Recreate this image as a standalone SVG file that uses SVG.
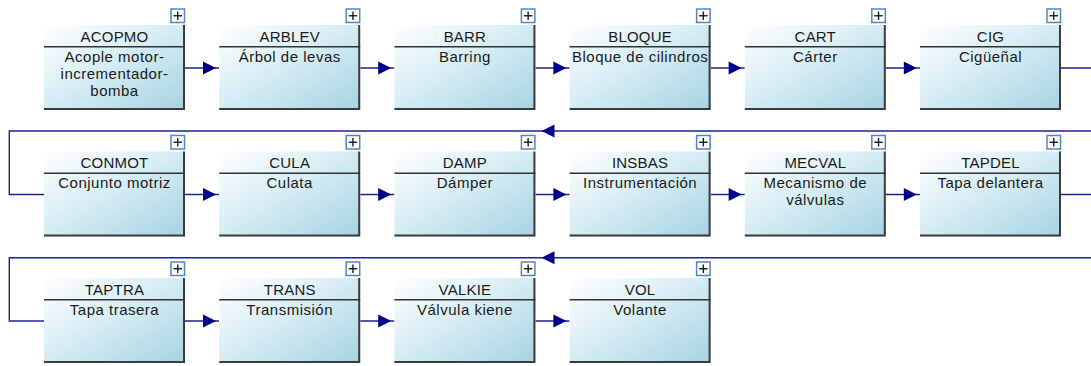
<svg xmlns="http://www.w3.org/2000/svg" xmlns:xlink="http://www.w3.org/1999/xlink" width="1091" height="366" viewBox="0 0 1091 366">
<style>
.box{fill:url(#g);stroke:none}
.edge{stroke:#3c3c3c;stroke-width:2;fill:none}
.sep{stroke:#333;stroke-width:1.5}
.plus{fill:#fff;stroke:#4f86c6;stroke-width:1.5}
.pl{stroke:#1a1a1a;stroke-width:1.4}
.t{font-family:"Liberation Sans",Arial,sans-serif;font-size:15px;fill:#1a1a1a;text-anchor:middle}
.h{letter-spacing:0.2px}
.d{letter-spacing:0.5px}
.c{stroke:#1f1f96;stroke-width:1.4;fill:none}
.ah{fill:#00008b}
</style>
<defs>
<linearGradient id="g" x1="0" y1="0" x2="1" y2="1">
<stop offset="0" stop-color="#ffffff"/>
<stop offset="0.4" stop-color="#dcf0f6"/>
<stop offset="1" stop-color="#a6d3e2"/>
</linearGradient>
<path id="ah" d="M0,0 L-13,-6.5 L-13,6.5 Z"/>
<g id="pb"><rect class="plus" x="-14" y="-16" width="13.5" height="13.5"/><line class="pl" x1="-11.5" y1="-9.25" x2="-3" y2="-9.25"/><line class="pl" x1="-7.25" y1="-13.5" x2="-7.25" y2="-5"/></g>
</defs>
<rect width="1091" height="366" fill="#fff"/>

<g id="connectors">
<path class="c" d="M185,68 H219 M360.2,68 H394.4 M535.4,68 H569.6 M710.6,68 H744.8 M885.8,68 H920"/>
<use href="#ah" class="ah" transform="translate(216,68)"/>
<use href="#ah" class="ah" transform="translate(391.2,68)"/>
<use href="#ah" class="ah" transform="translate(566.4,68)"/>
<use href="#ah" class="ah" transform="translate(741.6,68)"/>
<use href="#ah" class="ah" transform="translate(916.8,68)"/>
<path class="c" d="M1061,68 H1100 V131 H9.3 V194.5 H44"/>
<use href="#ah" class="ah" transform="translate(541.5,131) rotate(180)"/>

<path class="c" d="M185,194.5 H219 M360.2,194.5 H394.4 M535.4,194.5 H569.6 M710.6,194.5 H744.8 M885.8,194.5 H920"/>
<use href="#ah" class="ah" transform="translate(216,194.5)"/>
<use href="#ah" class="ah" transform="translate(391.2,194.5)"/>
<use href="#ah" class="ah" transform="translate(566.4,194.5)"/>
<use href="#ah" class="ah" transform="translate(741.6,194.5)"/>
<use href="#ah" class="ah" transform="translate(916.8,194.5)"/>
<path class="c" d="M1061,194.5 H1100 V257.7 H9.3 V321 H44"/>
<use href="#ah" class="ah" transform="translate(541.5,257.7) rotate(180)"/>

<path class="c" d="M185,321 H219 M360.2,321 H394.4 M535.4,321 H569.6"/>
<use href="#ah" class="ah" transform="translate(216,321)"/>
<use href="#ah" class="ah" transform="translate(391.2,321)"/>
<use href="#ah" class="ah" transform="translate(566.4,321)"/>
</g>

<!-- Row 1 -->
<g id="ACOPMO" transform="translate(44,25)">
<rect class="box" width="141" height="85"/><path class="edge" d="M140,0 V84 H0"/><line class="sep" x1="0" y1="21.7" x2="141" y2="21.7"/>
<use href="#pb" x="141" y="0"/>
<text class="t h" x="70.5" y="16.7">ACOPMO</text>
<text class="t d" x="70.5" y="36.5">Acople motor-</text>
<text class="t d" x="70.5" y="53.5">incrementador-</text>
<text class="t d" x="70.5" y="70.5">bomba</text>
</g>
<g id="ARBLEV" transform="translate(219.2,25)">
<rect class="box" width="141" height="85"/><path class="edge" d="M140,0 V84 H0"/><line class="sep" x1="0" y1="21.7" x2="141" y2="21.7"/>
<use href="#pb" x="141" y="0"/>
<text class="t h" x="70.5" y="16.7">ARBLEV</text>
<text class="t d" x="70.5" y="36.5">Árbol de levas</text>
</g>
<g id="BARR" transform="translate(394.4,25)">
<rect class="box" width="141" height="85"/><path class="edge" d="M140,0 V84 H0"/><line class="sep" x1="0" y1="21.7" x2="141" y2="21.7"/>
<use href="#pb" x="141" y="0"/>
<text class="t h" x="70.5" y="16.7">BARR</text>
<text class="t d" x="70.5" y="36.5">Barring</text>
</g>
<g id="BLOQUE" transform="translate(569.6,25)">
<rect class="box" width="141" height="85"/><path class="edge" d="M140,0 V84 H0"/><line class="sep" x1="0" y1="21.7" x2="141" y2="21.7"/>
<use href="#pb" x="141" y="0"/>
<text class="t h" x="70.5" y="16.7">BLOQUE</text>
<text class="t d" x="70.5" y="36.5">Bloque de cilindros</text>
</g>
<g id="CART" transform="translate(744.8,25)">
<rect class="box" width="141" height="85"/><path class="edge" d="M140,0 V84 H0"/><line class="sep" x1="0" y1="21.7" x2="141" y2="21.7"/>
<use href="#pb" x="141" y="0"/>
<text class="t h" x="70.5" y="16.7">CART</text>
<text class="t d" x="70.5" y="36.5">Cárter</text>
</g>
<g id="CIG" transform="translate(920,25)">
<rect class="box" width="141" height="85"/><path class="edge" d="M140,0 V84 H0"/><line class="sep" x1="0" y1="21.7" x2="141" y2="21.7"/>
<use href="#pb" x="141" y="0"/>
<text class="t h" x="70.5" y="16.7">CIG</text>
<text class="t d" x="70.5" y="36.5">Cigüeñal</text>
</g>

<!-- Row 2 -->
<g id="CONMOT" transform="translate(44,151.5)">
<rect class="box" width="141" height="85"/><path class="edge" d="M140,0 V84 H0"/><line class="sep" x1="0" y1="21.7" x2="141" y2="21.7"/>
<use href="#pb" x="141" y="0"/>
<text class="t h" x="70.5" y="16.7">CONMOT</text>
<text class="t d" x="70.5" y="36.5">Conjunto motriz</text>
</g>
<g id="CULA" transform="translate(219.2,151.5)">
<rect class="box" width="141" height="85"/><path class="edge" d="M140,0 V84 H0"/><line class="sep" x1="0" y1="21.7" x2="141" y2="21.7"/>
<use href="#pb" x="141" y="0"/>
<text class="t h" x="70.5" y="16.7">CULA</text>
<text class="t d" x="70.5" y="36.5">Culata</text>
</g>
<g id="DAMP" transform="translate(394.4,151.5)">
<rect class="box" width="141" height="85"/><path class="edge" d="M140,0 V84 H0"/><line class="sep" x1="0" y1="21.7" x2="141" y2="21.7"/>
<use href="#pb" x="141" y="0"/>
<text class="t h" x="70.5" y="16.7">DAMP</text>
<text class="t d" x="70.5" y="36.5">Dámper</text>
</g>
<g id="INSBAS" transform="translate(569.6,151.5)">
<rect class="box" width="141" height="85"/><path class="edge" d="M140,0 V84 H0"/><line class="sep" x1="0" y1="21.7" x2="141" y2="21.7"/>
<use href="#pb" x="141" y="0"/>
<text class="t h" x="70.5" y="16.7">INSBAS</text>
<text class="t d" x="70.5" y="36.5">Instrumentación</text>
</g>
<g id="MECVAL" transform="translate(744.8,151.5)">
<rect class="box" width="141" height="85"/><path class="edge" d="M140,0 V84 H0"/><line class="sep" x1="0" y1="21.7" x2="141" y2="21.7"/>
<use href="#pb" x="141" y="0"/>
<text class="t h" x="70.5" y="16.7">MECVAL</text>
<text class="t d" x="70.5" y="36.5">Mecanismo de</text>
<text class="t d" x="70.5" y="53.5">válvulas</text>
</g>
<g id="TAPDEL" transform="translate(920,151.5)">
<rect class="box" width="141" height="85"/><path class="edge" d="M140,0 V84 H0"/><line class="sep" x1="0" y1="21.7" x2="141" y2="21.7"/>
<use href="#pb" x="141" y="0"/>
<text class="t h" x="70.5" y="16.7">TAPDEL</text>
<text class="t d" x="70.5" y="36.5">Tapa delantera</text>
</g>

<!-- Row 3 -->
<g id="TAPTRA" transform="translate(44,278)">
<rect class="box" width="141" height="85"/><path class="edge" d="M140,0 V84 H0"/><line class="sep" x1="0" y1="21.7" x2="141" y2="21.7"/>
<use href="#pb" x="141" y="0"/>
<text class="t h" x="70.5" y="16.7">TAPTRA</text>
<text class="t d" x="70.5" y="36.5">Tapa trasera</text>
</g>
<g id="TRANS" transform="translate(219.2,278)">
<rect class="box" width="141" height="85"/><path class="edge" d="M140,0 V84 H0"/><line class="sep" x1="0" y1="21.7" x2="141" y2="21.7"/>
<use href="#pb" x="141" y="0"/>
<text class="t h" x="70.5" y="16.7">TRANS</text>
<text class="t d" x="70.5" y="36.5">Transmisión</text>
</g>
<g id="VALKIE" transform="translate(394.4,278)">
<rect class="box" width="141" height="85"/><path class="edge" d="M140,0 V84 H0"/><line class="sep" x1="0" y1="21.7" x2="141" y2="21.7"/>
<use href="#pb" x="141" y="0"/>
<text class="t h" x="70.5" y="16.7">VALKIE</text>
<text class="t d" x="70.5" y="36.5">Válvula kiene</text>
</g>
<g id="VOL" transform="translate(569.6,278)">
<rect class="box" width="141" height="85"/><path class="edge" d="M140,0 V84 H0"/><line class="sep" x1="0" y1="21.7" x2="141" y2="21.7"/>
<use href="#pb" x="141" y="0"/>
<text class="t h" x="70.5" y="16.7">VOL</text>
<text class="t d" x="70.5" y="36.5">Volante</text>
</g>
</svg>
